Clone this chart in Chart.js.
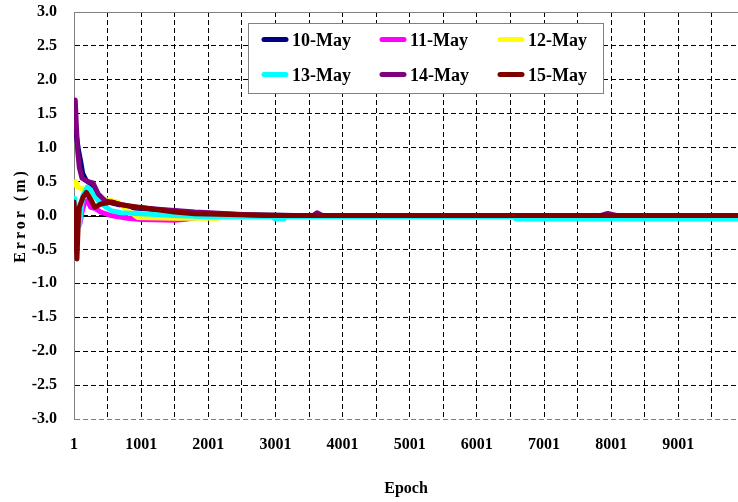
<!DOCTYPE html>
<html>
<head>
<meta charset="utf-8">
<title>Positioning error by epoch</title>
<script src="https://cdn.jsdelivr.net/npm/chart.js@4/dist/chart.umd.min.js"></script>
<style>
  html, body { margin: 0; padding: 0; background: #ffffff; }
  #wrap { width: 738px; height: 502px; }
</style>
</head>
<body>
<div id="wrap"><canvas id="chart" width="738" height="502"></canvas></div>
<script>
// Day labels of the six sessions
const dayLabels = ['10-May', '11-May', '12-May', '13-May', '14-May', '15-May'];

// Epoch / error (m) samples for each session
const epochs10 = [1, 40, 70, 100, 130, 180, 230, 300, 360, 460, 660, 910, 1300, 1800, 2500, 3300, 9890];
const err10    = [1.25, 1.15, 0.95, 0.80, 0.62, 0.52, 0.48, 0.42, 0.31, 0.21, 0.16, 0.11, 0.08, 0.04, 0.01, 0.00, 0.00];

const epochs11 = [1, 40, 90, 120, 160, 200, 250, 320, 400, 550, 800, 1000, 1500, 1700, 2000, 2300, 9890];
const err11    = [0.05, 0.00, -0.12, 0.05, 0.20, 0.22, 0.12, 0.10, 0.05, 0.00, -0.04, -0.06, -0.07, -0.05, -0.01, 0.00, 0.00];

const epochs12 = [1, 30, 60, 100, 160, 250, 400, 500, 650, 800, 950, 1500, 2150, 2250, 9890];
const err12    = [0.45, 0.50, 0.42, 0.40, 0.38, 0.33, 0.25, 0.23, 0.20, 0.08, -0.03, -0.04, -0.04, 0.00, 0.00];

const epochs13 = [1, 15, 45, 80, 110, 135, 200, 250, 300, 360, 450, 560, 700, 900, 1150, 1500, 2000, 2960, 2990, 3130, 3160, 6550, 6580, 9890];
const err13    = [0.25, 0.00, -0.20, -0.15, 0.10, 0.30, 0.42, 0.38, 0.30, 0.22, 0.14, 0.07, 0.04, 0.03, 0.02, 0.00, -0.02, -0.02, -0.05, -0.05, -0.02, -0.02, -0.05, -0.05];

const epochs14 = [1, 20, 35, 55, 80, 120, 210, 285, 360, 460, 660, 910, 1300, 1800, 2800, 3560, 3620, 3700, 7850, 7950, 8080, 9890];
const err14    = [1.65, 1.70, 1.35, 0.96, 0.71, 0.55, 0.50, 0.48, 0.32, 0.22, 0.17, 0.12, 0.09, 0.05, 0.00, 0.00, 0.04, 0.00, 0.00, 0.03, 0.00, 0.00];

const epochs15 = [1, 25, 45, 65, 80, 135, 185, 260, 310, 400, 560, 700, 910, 1140, 1500, 1800, 2500, 3200, 9890];
const err15    = [0.20, -0.20, -0.64, -0.10, 0.12, 0.27, 0.34, 0.22, 0.12, 0.17, 0.20, 0.16, 0.13, 0.10, 0.05, 0.025, 0.01, 0.00, 0.00];

// Axis ticks
const xGridEpochs = [1, 501, 1001, 1501, 2001, 2501, 3001, 3501, 4001, 4501, 5001, 5501, 6001, 6501, 7001, 7501, 8001, 8501, 9001, 9501];
const xTickLabels = ['1', '1001', '2001', '3001', '4001', '5001', '6001', '7001', '8001', '9001'];
const yTickValues = [-3, -2.5, -2, -1.5, -1, -0.5, 0, 0.5, 1, 1.5, 2, 2.5, 3];

const epochSeries = [epochs10, epochs11, epochs12, epochs13, epochs14, epochs15];
const errorSeries = [err10, err11, err12, err13, err14, err15];
const lineColors = ['#000080', '#ff00ff', '#ffff00', '#00ffff', '#800080', '#800000'];

const serif = "'Liberation Serif', 'Times New Roman', serif";
Chart.defaults.color = '#000000';

const datasets = dayLabels.map((label, i) => ({
  label,
  data: epochSeries[i].map((e, k) => ({ x: e, y: errorSeries[i][k] })),
  borderColor: lineColors[i],
  backgroundColor: lineColors[i],
  borderWidth: 5,
  borderJoinStyle: 'round',
  borderCapStyle: 'round',
  pointRadius: 0,
  tension: 0,
  fill: false,
  order: dayLabels.length - 1 - i   // later days drawn on top
}));

// Solid frame top edge and zero line under the series
const frameLines = {
  id: 'frameLines',
  beforeDatasetsDraw(chart) {
    const { ctx, chartArea, scales } = chart;
    ctx.save();
    ctx.setLineDash([]);
    ctx.lineWidth = 1;
    ctx.strokeStyle = '#808080';
    ctx.beginPath();
    ctx.moveTo(chartArea.left, Math.round(chartArea.top) + 0.5);
    ctx.lineTo(chartArea.right, Math.round(chartArea.top) + 0.5);
    ctx.stroke();
    const y0 = Math.round(scales.y.getPixelForValue(0)) + 0.5;
    ctx.strokeStyle = '#000000';
    ctx.beginPath();
    ctx.moveTo(chartArea.left, y0);
    ctx.lineTo(chartArea.right, y0);
    ctx.stroke();
    ctx.restore();
  }
};

// Spaced lettering for the vertical axis title
const spacedTitle = {
  id: 'spacedTitle',
  beforeDraw(chart) {
    const ys = chart.scales.y;
    if (ys && !ys._spacedTitle) {
      const orig = ys.drawTitle.bind(ys);
      ys.drawTitle = function () {
        const c = this.ctx;
        c.save();
        c.letterSpacing = '3px';
        orig();
        c.restore();
      };
      ys._spacedTitle = true;
    }
  }
};

// Boxed legend inside the plot, three columns by two rows
const boxedLegend = {
  id: 'boxedLegend',
  afterDatasetsDraw(chart) {
    const { ctx } = chart;
    const box = { x: 248, y: 23, w: 355, h: 70 };
    ctx.save();
    ctx.fillStyle = '#ffffff';
    ctx.fillRect(box.x, box.y, box.w, box.h);
    ctx.strokeStyle = '#808080';
    ctx.lineWidth = 1;
    ctx.setLineDash([]);
    ctx.strokeRect(box.x + 0.5, box.y + 0.5, box.w, box.h);
    ctx.font = 'bold 18px ' + serif;
    ctx.textBaseline = 'middle';
    ctx.textAlign = 'left';
    chart.data.datasets.forEach((ds, i) => {
      const col = i % 3, row = Math.floor(i / 3);
      const sx = 264 + col * 118;
      const ly = 39.5 + row * 35;
      ctx.strokeStyle = ds.borderColor;
      ctx.lineWidth = 5;
      ctx.lineCap = 'round';
      ctx.beginPath();
      ctx.moveTo(sx, ly);
      ctx.lineTo(sx + 22, ly);
      ctx.stroke();
      ctx.fillStyle = '#000000';
      ctx.fillText(ds.label, sx + 28, ly + 1.5);
    });
    ctx.restore();
  }
};

new Chart(document.getElementById('chart'), {
  type: 'line',
  data: { datasets },
  plugins: [frameLines, spacedTitle, boxedLegend],
  options: {
    responsive: false,
    devicePixelRatio: 1,
    animation: false,
    layout: { padding: { top: 12, right: 0, bottom: 0, left: 0 } },
    plugins: {
      legend: { display: false },
      tooltip: { enabled: false }
    },
    scales: {
      x: {
        type: 'linear',
        min: 1,
        max: 9890,
        afterBuildTicks(scale) {
          scale.ticks = xGridEpochs.map(v => ({ value: v }));
        },
        afterFit(scale) {
          scale.height = 83;
          scale.paddingLeft = 0;
          scale.paddingRight = 0;
        },
        ticks: {
          autoSkip: false,
          maxRotation: 0,
          padding: 16,
          font: { family: serif, size: 16, weight: 'bold' },
          callback(value) {
            const s = String(value);
            return xTickLabels.includes(s) ? s : '';
          }
        },
        grid: {
          drawTicks: false,
          lineWidth: 1,
          color(ctx) {
            return ctx.tick && ctx.tick.value === 1 ? 'rgba(0,0,0,0)' : '#000000';
          }
        },
        border: { display: false, dash: [5, 3] },
        title: {
          display: true,
          text: 'Epoch',
          font: { family: serif, size: 16, weight: 'bold' },
          padding: { top: 0, bottom: 4 }
        }
      },
      y: {
        type: 'linear',
        min: -3,
        max: 3,
        afterBuildTicks(scale) {
          scale.ticks = yTickValues.map(v => ({ value: v }));
        },
        afterFit(scale) {
          scale.width = 74;
          scale.paddingTop = 0;
          scale.paddingBottom = 0;
        },
        ticks: {
          padding: 17,
          font: { family: serif, size: 16, weight: 'bold' },
          callback(value) { return Number(value).toFixed(1); }
        },
        grid: {
          drawTicks: false,
          lineWidth: 1,
          color(ctx) {
            const v = ctx.tick ? ctx.tick.value : 0;
            return (v === 3 || v === -3) ? '#808080' : '#000000';
          }
        },
        border: { display: true, color: '#808080', width: 1, dash: [5, 3] },
        title: {
          display: true,
          text: 'Error (m)',
          font: { family: serif, size: 16, weight: 'bold' },
          padding: { top: 11, bottom: 0 }
        }
      }
    }
  }
});
</script>
</body>
</html>
